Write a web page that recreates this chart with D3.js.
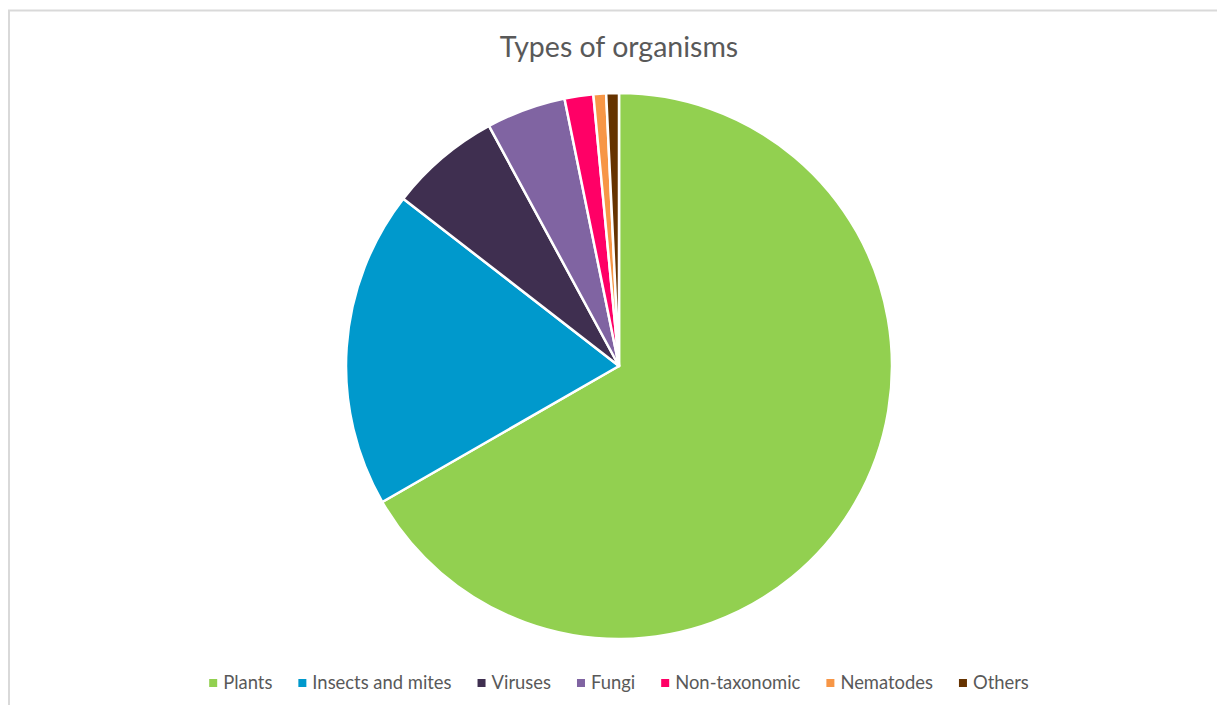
<!DOCTYPE html>
<html>
<head>
<meta charset="utf-8">
<script src="https://cdn.jsdelivr.net/npm/d3@7"></script>
<style>
html,body{margin:0;padding:0;background:#fff;}
svg{display:block;}
</style>
</head>
<body>
<script>
const categories = ["Plants","Insects and mites","Viruses","Fungi","Non-taxonomic","Nematodes","Others"];
const values = [66.7, 18.8, 6.6, 4.7, 1.7, 0.75, 0.75];
const colors = ["#92D050","#0099CC","#3F2F50","#8064A2","#FF0066","#F79646","#663300"];
const title = "Types of organisms";

const W = 1217, H = 705;
const svg = d3.select("body").append("svg").attr("width", W).attr("height", H);

// chart frame
svg.append("rect").attr("x",9).attr("y",10.5).attr("width",W+10).attr("height",H+10)
  .attr("fill","#fff").attr("stroke","#d9d9d9").attr("stroke-width",2);

const cx = 619, cy = 366, r = 273;

svg.append("text").attr("x", cx).attr("y", 57).attr("text-anchor","middle")
  .attr("font-family","Lato, 'Open Sans', sans-serif").attr("font-size",28.5)
  .attr("fill","#595959").text(title);

const data = categories.map((c,i)=>({name:c, value:values[i], color:colors[i]}));
const pie = d3.pie().value(d=>d.value).sort(null);
const arc = d3.arc().innerRadius(0).outerRadius(r);
const g = svg.append("g").attr("transform",`translate(${cx},${cy})`);
g.selectAll("path").data(pie(data)).join("path")
  .attr("d", arc).attr("fill", d=>d.data.color)
  .attr("stroke","#fff").attr("stroke-width",2.5).attr("stroke-linejoin","round");

// legend
const lg = svg.append("g");
const items = lg.selectAll("g").data(data).join("g");
items.append("rect").attr("width",8).attr("height",8).attr("y",-4).attr("fill",d=>d.color);
const texts = items.append("text").attr("x",14).attr("y",0).attr("dy","0.35em")
  .attr("font-family","Lato, 'Open Sans', sans-serif").attr("font-size",18.4)
  .attr("fill","#595959").text(d=>d.name);
let x = 0; const gap = 26;
const offs = [];
texts.each(function(d,i){ offs.push(x); x += 14 + this.getComputedTextLength() + gap; });
const total = x - gap;
items.attr("transform",(d,i)=>`translate(${cx - total/2 + offs[i]},683)`);
</script>
</body>
</html>
